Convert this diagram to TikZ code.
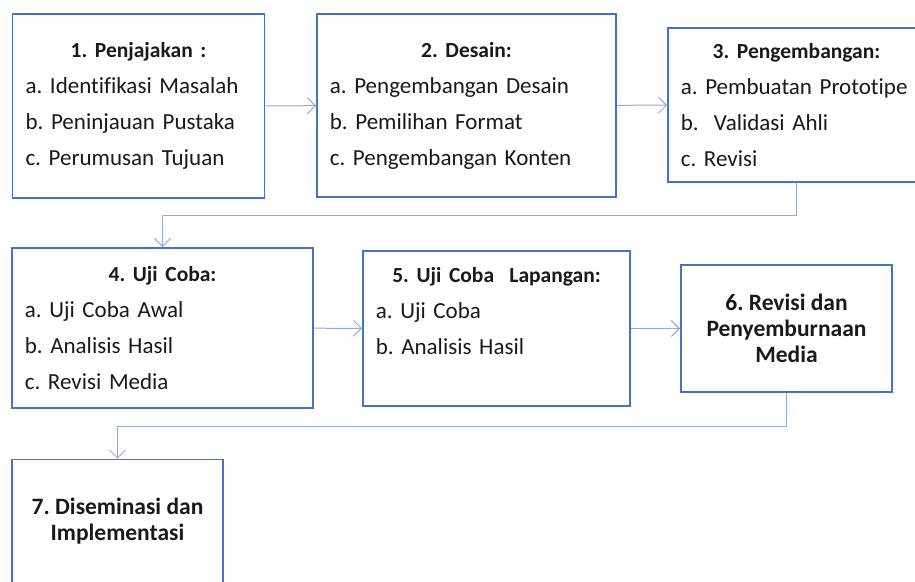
\documentclass[tikz,border=0pt]{standalone}
\usepackage{fontspec}
\setmainfont{Carlito}[Ligatures=NoCommon]
\usetikzlibrary{arrows.meta,positioning,calc}
\definecolor{boxblue}{RGB}{68,114,196}
\definecolor{linkblue}{RGB}{143,170,220}
\newcommand{\stagetext}[2]{{\centering\fontsize{21.5}{36}\selectfont\bfseries #1\par}\raggedright #2}
\tikzset{
    block/.style={rectangle, draw=boxblue, fill=white, line width=1.6pt, inner xsep=13pt, inner ysep=0pt, font=\frenchspacing\fontsize{23}{36}\selectfont, text=black!90},
    final/.style={rectangle, draw=boxblue, fill=white, line width=1.6pt, align=center, font=\frenchspacing\fontsize{23.5}{26}\selectfont\bfseries, text=black!90},
    line/.style={draw=linkblue, line width=1pt, -{Straight Barb[length=8pt,width=16pt]}}
}
\begin{document}
\begin{tikzpicture}[x=1pt, y=-1pt]
    \useasboundingbox (0,0) rectangle (915,581);
    \node [block, text width=226pt, minimum height=184.4pt] (penjajakan) at (138.5,106) {\stagetext{1. Penjajakan :}{a. Identifikasi Masalah\\ b. Peninjauan Pustaka\\ c. Perumusan Tujuan}};
    \node [block, text width=273.4pt, minimum height=183.4pt] (desain) at (466.5,105.5) {\stagetext{2. Desain:}{a. Pengembangan Desain\\ b. Pemilihan Format\\ c. Pengembangan Konten}};
    \node [block, text width=231.4pt, minimum height=154.4pt] (pengembangan) at (796.5,105) {\stagetext{3. Pengembangan:}{a. Pembuatan Prototipe\\ b.\ \ Validasi Ahli\\ c. Revisi}};
    \node [block, text width=275.4pt, minimum height=160.4pt] (ujicoba) at (162.5,328) {\stagetext{4. Uji Coba:}{a. Uji Coba Awal\\ b. Analisis Hasil\\ c. Revisi Media}};
    \node [block, text width=241.4pt, minimum height=155.4pt] (lapangan) at (496.5,328.5) {\stagetext{5. Uji Coba\ \ Lapangan:}{a. Uji Coba\\ b. Analisis Hasil\\ \mbox{}}};
    \node [final, minimum width=211.4pt, minimum height=127.4pt] (revisi) at (786.5,328.5) {6. Revisi dan\\ Penyemburnaan\\ Media};
    \node [final, minimum width=211.4pt, minimum height=124pt] (diseminasi) at (117.5,521.5) {7. Diseminasi dan\\ Implementasi};

    \path [line] (penjajakan) -- (desain);
    \path [line] (desain) -- (pengembangan);
    \path [line] (pengembangan.south) -- ++(0,32) -| (ujicoba.north);
    \path [line] (ujicoba) -- (lapangan);
    \path [line] (lapangan) -- (revisi);
    \path [line] (revisi.south) -- ++(0,33) -| (diseminasi.north);
\end{tikzpicture}
\end{document}
